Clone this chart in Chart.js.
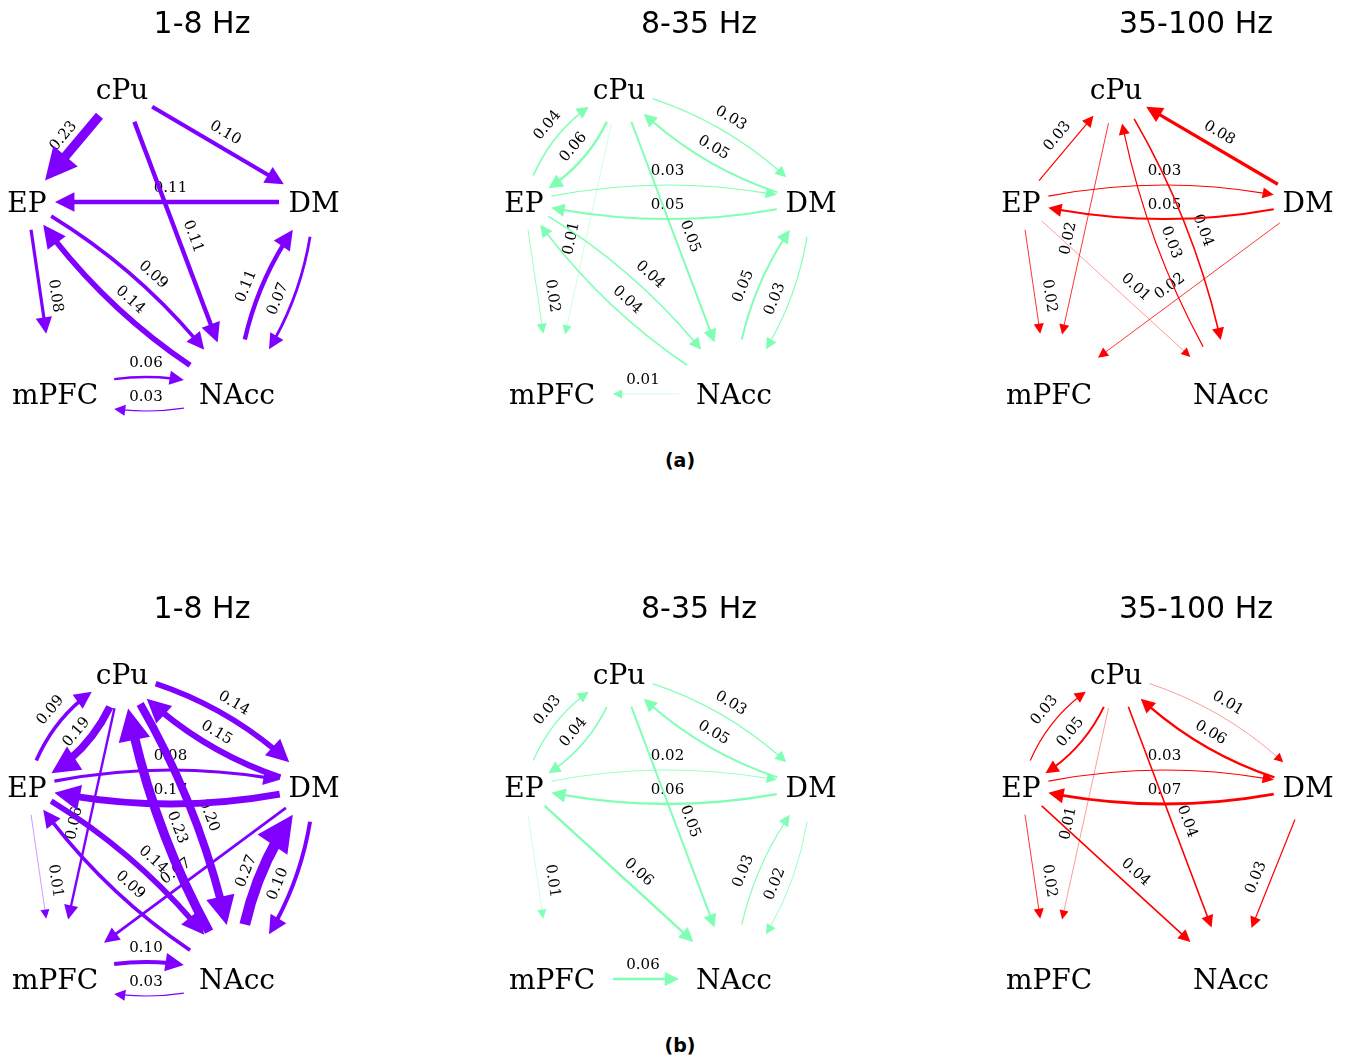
<!DOCTYPE html>
<html>
<head>
<meta charset="utf-8">
<script src="https://cdn.jsdelivr.net/npm/chart.js@4.4.1/dist/chart.umd.min.js"></script>
<style>
  html, body { margin: 0; padding: 0; background: #fff; overflow: hidden; }
  body { width: 1354px; height: 1063px; position: relative; }
  .panel { position: absolute; width: 404px; height: 440px; }
  .caption { position: absolute; font: bold 19px 'DejaVu Sans', sans-serif; line-height: 1; transform: translate(-50%, -50%); color: #000; }
</style>
</head>
<body>
<div class="panel" style="left:0px;top:0px"><canvas id="lowA" width="404" height="440"></canvas></div>
<div class="panel" style="left:497px;top:0px"><canvas id="midA" width="404" height="440"></canvas></div>
<div class="panel" style="left:994px;top:0px"><canvas id="highA" width="404" height="440"></canvas></div>
<div class="caption" style="left:680px;top:460px">(a)</div>
<div class="panel" style="left:0px;top:585px"><canvas id="lowB" width="404" height="440"></canvas></div>
<div class="panel" style="left:497px;top:585px"><canvas id="midB" width="404" height="440"></canvas></div>
<div class="panel" style="left:994px;top:585px"><canvas id="highB" width="404" height="440"></canvas></div>
<div class="caption" style="left:680px;top:1045px">(b)</div>

<script>
// regions and frequency bands
const nodes = ['cPu', 'EP', 'DM', 'mPFC', 'NAcc'];
const bands = ['1-8 Hz', '8-35 Hz', '35-100 Hz'];

// directed connections [from, to, value]
const lowA = [
  ['cPu', 'EP', 0.23], ['cPu', 'DM', 0.10], ['DM', 'EP', 0.11], ['cPu', 'NAcc', 0.11],
  ['EP', 'NAcc', 0.09], ['NAcc', 'EP', 0.14], ['EP', 'mPFC', 0.08],
  ['NAcc', 'DM', 0.11], ['DM', 'NAcc', 0.07], ['mPFC', 'NAcc', 0.06], ['NAcc', 'mPFC', 0.03]
];
const midA = [
  ['EP', 'cPu', 0.04], ['cPu', 'EP', 0.06], ['cPu', 'DM', 0.03], ['DM', 'cPu', 0.05],
  ['EP', 'DM', 0.03], ['DM', 'EP', 0.05], ['cPu', 'NAcc', 0.05], ['cPu', 'mPFC', 0.01],
  ['EP', 'mPFC', 0.02], ['EP', 'NAcc', 0.04], ['NAcc', 'EP', 0.04],
  ['NAcc', 'DM', 0.05], ['DM', 'NAcc', 0.03], ['NAcc', 'mPFC', 0.01]
];
const highA = [
  ['EP', 'cPu', 0.03], ['DM', 'cPu', 0.08], ['EP', 'DM', 0.03], ['DM', 'EP', 0.05],
  ['cPu', 'mPFC', 0.02], ['EP', 'mPFC', 0.02], ['NAcc', 'cPu', 0.03], ['cPu', 'NAcc', 0.04],
  ['EP', 'NAcc', 0.01], ['DM', 'mPFC', 0.02]
];
const lowB = [
  ['EP', 'cPu', 0.09], ['cPu', 'EP', 0.19], ['cPu', 'DM', 0.14], ['DM', 'cPu', 0.15],
  ['EP', 'DM', 0.08], ['DM', 'EP', 0.17], ['cPu', 'NAcc', 0.20], ['NAcc', 'cPu', 0.23],
  ['cPu', 'mPFC', 0.06], ['EP', 'mPFC', 0.01], ['EP', 'NAcc', 0.14], ['NAcc', 'EP', 0.09],
  ['DM', 'mPFC', 0.07], ['NAcc', 'DM', 0.27], ['DM', 'NAcc', 0.10],
  ['mPFC', 'NAcc', 0.10], ['NAcc', 'mPFC', 0.03]
];
const midB = [
  ['EP', 'cPu', 0.03], ['cPu', 'EP', 0.04], ['cPu', 'DM', 0.03], ['DM', 'cPu', 0.05],
  ['EP', 'DM', 0.02], ['DM', 'EP', 0.06], ['cPu', 'NAcc', 0.05], ['EP', 'mPFC', 0.01],
  ['EP', 'NAcc', 0.06], ['NAcc', 'DM', 0.03], ['DM', 'NAcc', 0.02], ['mPFC', 'NAcc', 0.06]
];
const highB = [
  ['EP', 'cPu', 0.03], ['cPu', 'EP', 0.05], ['cPu', 'DM', 0.01], ['DM', 'cPu', 0.06],
  ['EP', 'DM', 0.03], ['DM', 'EP', 0.07], ['cPu', 'mPFC', 0.01], ['EP', 'mPFC', 0.02],
  ['cPu', 'NAcc', 0.04], ['EP', 'NAcc', 0.04], ['DM', 'NAcc', 0.03]
];

// layout (panel coordinates) and node margins
const W = 404, H = 440, TITLE_H = 7 + 30 * 1.2 + 10;
const nodePos = { cPu: [122, 89], EP: [27, 202], DM: [314, 202], mPFC: [55, 394], NAcc: [237, 394] };
const margin = { cPu: 35, EP: 28, DM: 35, mPFC: 61, NAcc: 55 };
const colors = ['#8000ff', '#80ffb4', '#ff0000'];
const WIDTH_K = 40;
const BOW = 17;       // bulge of a reciprocal pair's arcs, px
const LABEL_OFF = 16; // label lift above its edge, px

function qpt(p0, c, p2, t) {
  const u = 1 - t;
  return { x: u * u * p0.x + 2 * u * t * c.x + t * t * p2.x, y: u * u * p0.y + 2 * u * t * c.y + t * t * p2.y };
}
function blossom(p0, c, p2, a, b) {
  const k0 = (1 - a) * (1 - b), k1 = (1 - a) * b + a * (1 - b), k2 = a * b;
  return { x: k0 * p0.x + k1 * c.x + k2 * p2.x, y: k0 * p0.y + k1 * c.y + k2 * p2.y };
}
function dist(a, b) { return Math.hypot(a.x - b.x, a.y - b.y); }
// t where distance from ref grows (or shrinks) past d
function searchT(p0, c, p2, ref, d, lo, hi, growing) {
  for (let i = 0; i < 40; i++) {
    const m = (lo + hi) / 2;
    const dd = dist(qpt(p0, c, p2, m), ref);
    if ((dd < d) === growing) lo = m; else hi = m;
  }
  return (lo + hi) / 2;
}

const graphPlugin = {
  id: 'graph',
  afterDatasetsDraw(chart, args, opts) {
    const ctx = chart.ctx;
    const sx = chart.scales.x, sy = chart.scales.y;
    const P = n => ({ x: sx.getPixelForValue(nodePos[n][0]), y: sy.getPixelForValue(nodePos[n][1]) });
    const edges = opts.edges;
    const has = (a, b) => edges.some(e => e[0] === a && e[1] === b);

    const geo = edges.map(e => {
      const p0 = P(e[0]), p2 = P(e[1]);
      const dx = p2.x - p0.x, dy = p2.y - p0.y, L = Math.hypot(dx, dy);
      const k = has(e[1], e[0]) ? 2 * BOW / L : 0;
      const c = { x: (p0.x + p2.x) / 2 + k * dy, y: (p0.y + p2.y) / 2 - k * dx };
      return { e, p0, p2, c, dx, dy };
    });

    ctx.save();
    // labels
    ctx.font = '15px "DejaVu Serif"';
    ctx.fillStyle = '#000';
    ctx.textAlign = 'center';
    ctx.textBaseline = 'alphabetic';
    geo.forEach(g => {
      const m = qpt(g.p0, g.c, g.p2, 0.5);
      let th = Math.atan2(g.dy, g.dx);
      if (th > Math.PI / 2) th -= Math.PI;
      if (th <= -Math.PI / 2) th += Math.PI;
      const ux = Math.sin(th), uy = -Math.cos(th);
      ctx.save();
      ctx.translate(m.x + LABEL_OFF * ux, m.y + LABEL_OFF * uy);
      ctx.rotate(th);
      ctx.fillText(g.e[2].toFixed(2), 0, 5.5);
      ctx.restore();
    });

    // edges
    geo.forEach(g => {
      const { p0, c, p2 } = g;
      const lw = g.e[2] * WIDTH_K;
      const t0 = searchT(p0, c, p2, p0, margin[g.e[0]], 0, 0.5, true);
      const t1 = searchT(p0, c, p2, p2, margin[g.e[1]], 0.5, 1, false);
      const tip = qpt(p0, c, p2, t1);
      const hl = 8 + 2.6 * lw, hw = 4 + 1.3 * lw;
      const t2 = searchT(p0, c, p2, tip, hl * 0.8, t0, t1, false);
      ctx.strokeStyle = opts.color;
      ctx.fillStyle = opts.color;
      ctx.lineWidth = lw;
      ctx.lineCap = 'butt';
      const a = qpt(p0, c, p2, t0), b = qpt(p0, c, p2, t2), k = blossom(p0, c, p2, t0, t2);
      ctx.beginPath();
      ctx.moveTo(a.x, a.y);
      ctx.quadraticCurveTo(k.x, k.y, b.x, b.y);
      ctx.stroke();
      // arrow head along the tangent at the tip
      const tx = 2 * (1 - t1) * (c.x - p0.x) + 2 * t1 * (p2.x - c.x);
      const ty = 2 * (1 - t1) * (c.y - p0.y) + 2 * t1 * (p2.y - c.y);
      const tl = Math.hypot(tx, ty), ux = tx / tl, uy = ty / tl;
      const bx = tip.x - ux * hl, by = tip.y - uy * hl;
      ctx.beginPath();
      ctx.moveTo(tip.x, tip.y);
      ctx.lineTo(bx - uy * hw, by + ux * hw);
      ctx.lineTo(bx + uy * hw, by - ux * hw);
      ctx.closePath();
      ctx.fill();
    });

    // node names
    ctx.font = '28px "DejaVu Serif"';
    ctx.fillStyle = '#000';
    ctx.textAlign = 'center';
    ctx.textBaseline = 'alphabetic';
    nodes.forEach(n => {
      const p = P(n);
      ctx.fillText(n, p.x, p.y + 10);
    });
    ctx.restore();
  }
};

function makePanel(id, title, edges, color) {
  return new Chart(document.getElementById(id), {
    type: 'scatter',
    data: {
      datasets: [{
        data: nodes.map(n => ({ x: nodePos[n][0], y: nodePos[n][1] })),
        pointRadius: 0
      }]
    },
    options: {
      responsive: false,
      animation: false,
      layout: { padding: 0 },
      plugins: {
        legend: { display: false },
        tooltip: { enabled: false },
        title: {
          display: true,
          text: title,
          color: '#000',
          font: { family: 'DejaVu Sans', size: 30, weight: 'normal' },
          padding: { top: 7, bottom: 10 }
        },
        graph: { edges: edges, color: color }
      },
      scales: {
        x: { display: false, min: 0, max: W },
        y: { display: false, reverse: true, min: TITLE_H, max: H }
      }
    },
    plugins: [graphPlugin]
  });
}

makePanel('lowA', bands[0], lowA, colors[0]);
makePanel('midA', bands[1], midA, colors[1]);
makePanel('highA', bands[2], highA, colors[2]);
makePanel('lowB', bands[0], lowB, colors[0]);
makePanel('midB', bands[1], midB, colors[1]);
makePanel('highB', bands[2], highB, colors[2]);
</script>
</body>
</html>
